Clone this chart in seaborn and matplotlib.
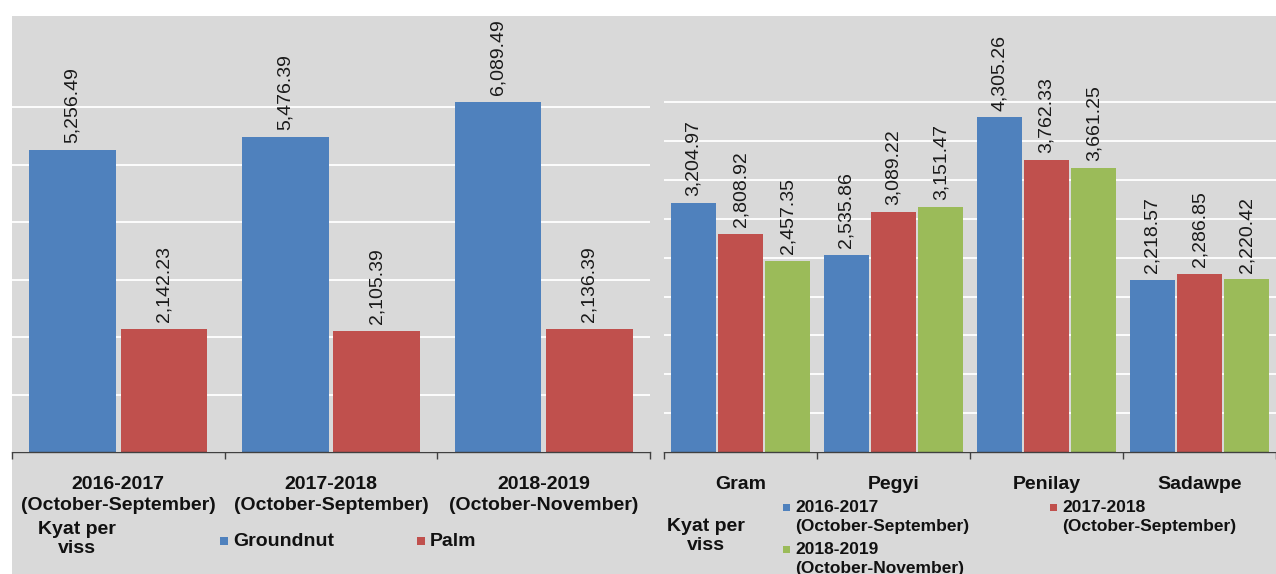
import seaborn as sns
import matplotlib.pyplot as plt
import matplotlib.patches as mpatches
import pandas as pd
import numpy as np

# left panel: edible oil prices
oilPeriods = ['2016-2017\n(October-September)', '2017-2018\n(October-September)', '2018-2019\n(October-November)']
groundnut = [5256.49, 5476.39, 6089.49]
palm = [2142.23, 2105.39, 2136.39]

# right panel: pulses prices
pulses = ['Gram', 'Pegyi', 'Penilay', 'Sadawpe']
y2016 = [3204.97, 2535.86, 4305.26, 2218.57]
y2017 = [2808.92, 3089.22, 3762.33, 2286.85]
y2018 = [2457.35, 3151.47, 3661.25, 2220.42]
yearNames = ['2016-2017\n(October-September)', '2017-2018\n(October-September)', '2018-2019\n(October-November)']

BLUE, RED, GREEN = '#4F81BD', '#C0504D', '#9BBB59'
GRAY = '#D9D9D9'

oilDf = pd.DataFrame({
    'period': oilPeriods * 2,
    'oil': ['Groundnut'] * 3 + ['Palm'] * 3,
    'price': groundnut + palm,
})
pulseDf = pd.DataFrame({
    'pulse': pulses * 3,
    'year': [yearNames[0]] * 4 + [yearNames[1]] * 4 + [yearNames[2]] * 4,
    'price': y2016 + y2017 + y2018,
})

sns.set_theme(style='white')
plt.rcParams['font.family'] = ['Liberation Sans', 'DejaVu Sans']

W, H = 1276, 574
fig = plt.figure(figsize=(W / 100, H / 100), dpi=100)

def fx(x):
    return x / W

def fy(y):
    return 1 - y / H

#gray backdrop like the excel chart area
fig.patches.append(mpatches.Rectangle((fx(12), 0), 1 - fx(12), fy(16), transform=fig.transFigure,
                                      facecolor=GRAY, edgecolor='none', zorder=-10))

axL = fig.add_axes([fx(12), fy(452), fx(650) - fx(12), fy(16) - fy(452)])
axR = fig.add_axes([fx(664), fy(452), fx(1276) - fx(664), fy(16) - fy(452)])

sns.barplot(data=oilDf, x='period', y='price', hue='oil', palette=[BLUE, RED], saturation=1,
            width=0.86, gap=0.05, edgecolor='none', linewidth=0, ax=axL, legend=False)
sns.barplot(data=pulseDf, x='pulse', y='price', hue='year', palette=[BLUE, RED, GREEN], saturation=1,
            width=0.93, gap=0.05, edgecolor='none', linewidth=0, ax=axR, legend=False)

def styleAxis(ax, ymax, ystep, ytop, ncat):
    ax.set_facecolor(GRAY)
    ax.set_ylim(0, ymax)
    ax.set_xlim(-0.5, ncat - 0.5)
    ax.set_yticks(np.arange(0, ytop + 1, ystep))
    ax.set_yticklabels([])
    ax.tick_params(axis='y', length=0)
    ax.grid(axis='y', color='white', linewidth=1.3)
    ax.set_axisbelow(True)
    for s in ['left', 'right', 'top']:
        ax.spines[s].set_visible(False)
    ax.spines['bottom'].set_color('#404040')
    ax.spines['bottom'].set_linewidth(1.0)
    ax.set_xticks(np.arange(-0.5, ncat, 1.0), minor=True)
    ax.tick_params(axis='x', which='minor', length=5, width=1, color='#404040', direction='out', bottom=True)
    ax.tick_params(axis='x', which='major', length=0, pad=17)
    for lbl in ax.get_xticklabels():
        lbl.set_fontweight('bold')
        lbl.set_fontsize(14)
        lbl.set_linespacing(1.3)
        lbl.set_color('#111111')
    ax.set_xlabel('')
    ax.set_ylabel('')
    for c in ax.containers:
        ax.bar_label(c, labels=[f'{v:,.2f}' for v in c.datavalues], rotation=90,
                     padding=5, fontsize=14, color='#1a1a1a', clip_on=False)

styleAxis(axL, 7583, 1000, 6000, 3)
styleAxis(axR, 5611, 500, 4500, 4)

# "Kyat per viss" units
fig.text(fx(77), fy(539), 'Kyat per\nviss', ha='center', va='center', fontsize=14,
         fontweight='bold', color='#111111', linespacing=1.2)
fig.text(fx(706), fy(536), 'Kyat per\nviss', ha='center', va='center', fontsize=14,
         fontweight='bold', color='#111111', linespacing=1.2)

def legendItem(x, y, color, text, size, sq=8):
    fig.patches.append(mpatches.Rectangle((fx(x), fy(y + sq / 2)), sq / W, sq / H,
                                          transform=fig.transFigure, facecolor=color, edgecolor='none'))
    fig.text(fx(x + sq + 5), fy(y), text, ha='left', va='center', fontsize=size,
             fontweight='bold', color='#111111')

def legendItem2(x, y, color, text, size, sq=7):
    # two line entry, square next to the first line
    fig.patches.append(mpatches.Rectangle((fx(x), fy(y + sq / 2)), sq / W, sq / H,
                                          transform=fig.transFigure, facecolor=color, edgecolor='none'))
    fig.text(fx(x + sq + 5), fy(y - 7), text, ha='left', va='top', fontsize=size,
             fontweight='bold', color='#111111', linespacing=1.3)

legendItem(220, 541, BLUE, 'Groundnut', 14)
legendItem(417, 541, RED, 'Palm', 14)
legendItem2(783, 507, BLUE, yearNames[0], 12.5)
legendItem2(1050, 507, RED, yearNames[1], 12.5)
legendItem2(783, 549, GREEN, yearNames[2], 12.5)

fig.savefig('out.png', dpi=100)
